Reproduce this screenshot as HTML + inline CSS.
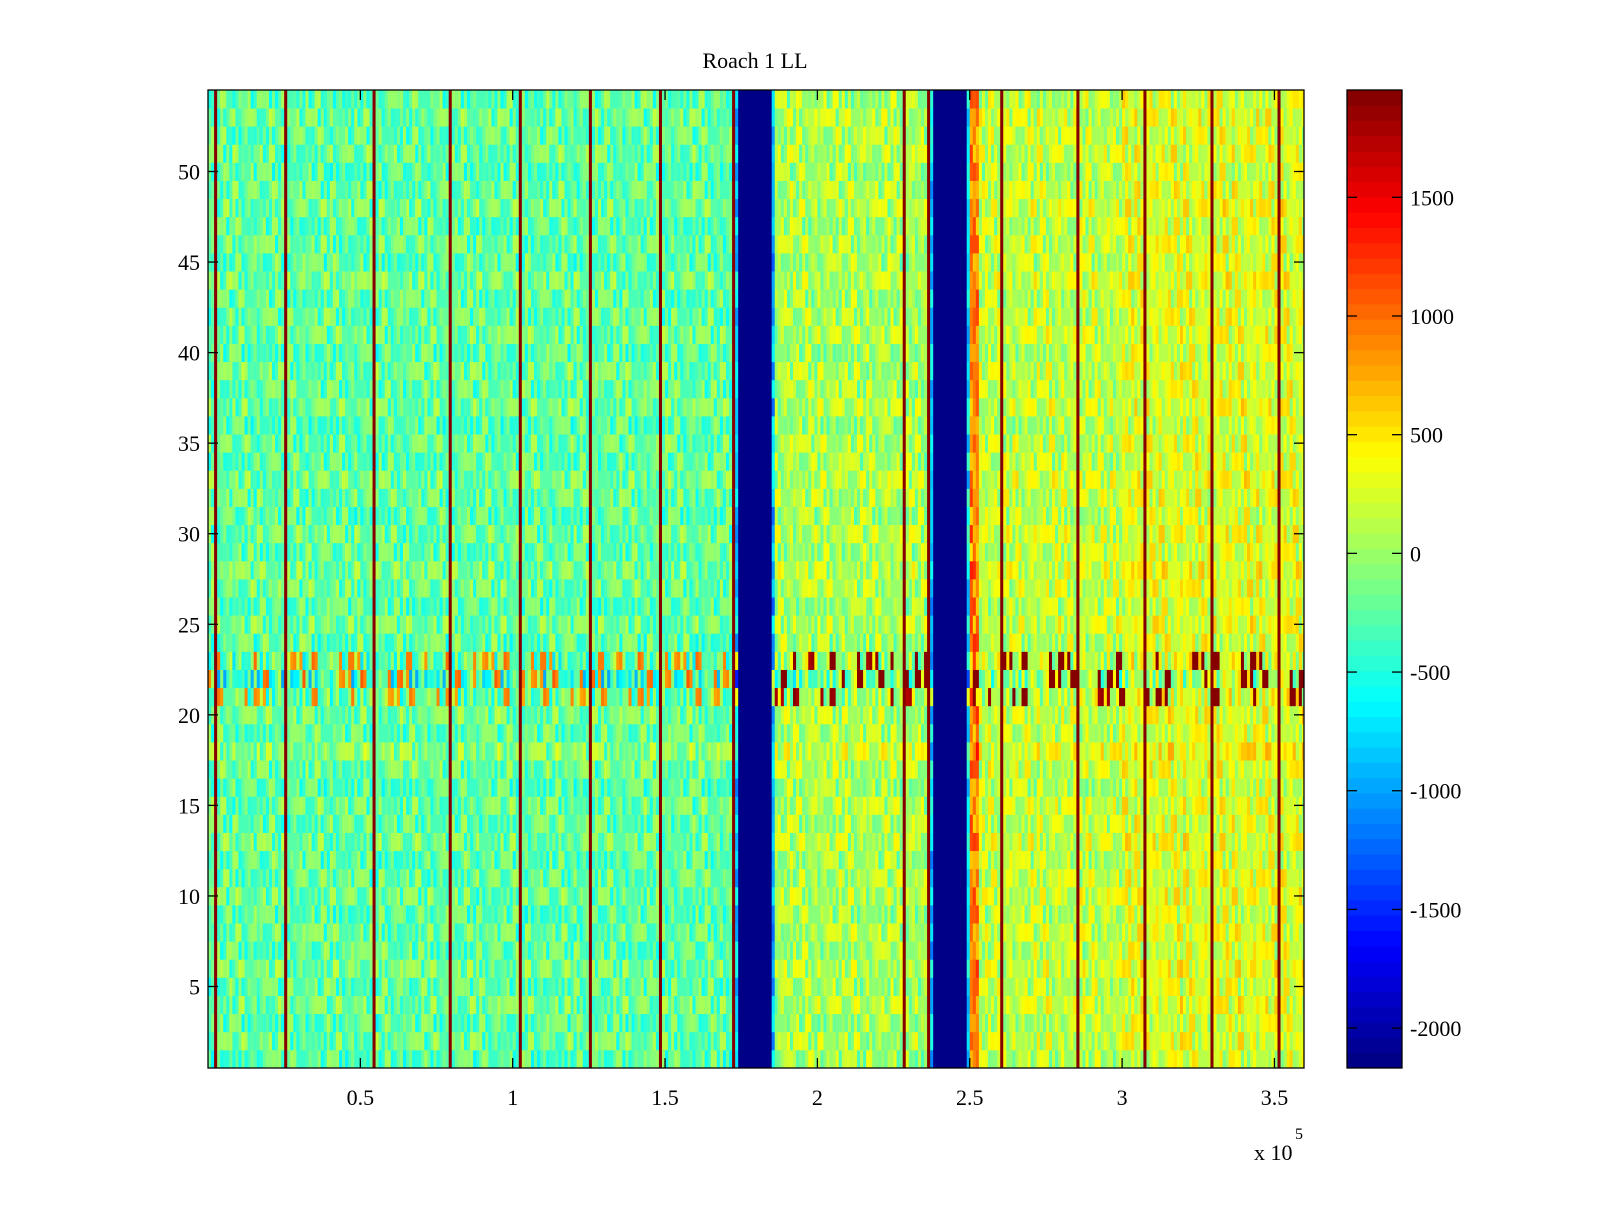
<!DOCTYPE html>
<html><head><meta charset="utf-8"><style>
html,body{margin:0;padding:0;background:#fff;}
svg text{font-family:"Liberation Serif",serif;fill:#000;}
</style></head><body>
<svg id="chart" width="1600" height="1200" viewBox="0 0 1600 1200" xmlns="http://www.w3.org/2000/svg">
<rect x="0" y="0" width="1600" height="1200" fill="#fff"/>
<text x="755" y="68" font-size="22" text-anchor="middle">Roach 1 LL</text>
<g id="cells"></g>
<g id="axes"></g>
<g id="cbar"></g>
</svg>
<script>
// ---- data (x in thousands) ----
const segEdges = [0,173,174,185,186,237,238,249,250,253,300,360];
const segMeans = [-230,-800,-2168,-900,60,-800,-2168,-700,900,150,270];
const redLines = [2,25.5,54,79,102,125,148,172,228,236,260,285,307,329,351];
const redValue = 1900;
const rowOffsets = [-60,20,-40,40,-20,60,-30,10,-50,30,0,-40,50,-10,20,-60,30,150,-20,40,100,-80,80,-30,40,-50,20,60,-20,30,-40,10,50,-30,0,-60,40,-10,20,-50,30,0,-20,50,-40,10,-30,40,0,-50,20,-10,30,-20];
const rowAmp = [1,1,1,1,1,1,1,1,1,1,1,1,1,1,1,1,1,1,1,1,1.5,1.9,1.6,1.1,1,1,1,1,1,1,1,1,1,1,1,1,1,1,1,1,1,1,1,1,1,1,1,1,1,1,1,1,1,1];
const rowSpike = [0,0,0,0,0,0,0,0,0,0,0,0,0,0,0,0,0,0,0,0,1200,1500,1300,0,0,0,0,0,0,0,0,0,0,0,0,0,0,0,0,0,0,0,0,0,0,0,0,0,0,0,0,0,0,0];
const texture = [0.3,-0.8,0.6,-0.2,0.9,-0.5,0.1,-0.9,0.4,0.7,-0.3,-0.6,0.2,0.8,-0.1,-0.7,0.5,0.0,-0.4,0.95,-0.85,0.35,-0.15,0.65,-0.55,0.15,0.75,-0.35,-0.65,0.45,-0.95,0.25,0.55,-0.25,0.85,-0.45,0.05];
const texScale = 380;
const xTicks = [0.5,1,1.5,2,2.5,3,3.5];
const xTickLabels = ["0.5","1","1.5","2","2.5","3","3.5"];
const yTicks = [5,10,15,20,25,30,35,40,45,50];
const cTicks = [-2000,-1500,-1000,-500,0,500,1000,1500];
const cMin = -2168, cMax = 1952;
const nRows = 54, nCols = 360;

// ---- layout ----
const PL=208, PR=1304, PT=90, PB=1068;
const xMin=0, xMax=359.7;
const xs = v => PL + (v - xMin) / (xMax - xMin) * (PR - PL);
const ys = v => PB - (v - 0.5) / nRows * (PB - PT);
const CL=1347, CR=1402;
const cs = v => PB - (v - cMin) / (cMax - cMin) * (PB - PT);

function jet(t){
  t = Math.max(0, Math.min(1, t));
  t = (Math.floor(t*63.999)+0.5)/64;
  const r = Math.max(0, Math.min(1, 1.5 - Math.abs(4*t - 3)));
  const g = Math.max(0, Math.min(1, 1.5 - Math.abs(4*t - 2)));
  const b = Math.max(0, Math.min(1, 1.5 - Math.abs(4*t - 1)));
  return `rgb(${Math.round(r*255)},${Math.round(g*255)},${Math.round(b*255)})`;
}
const color = v => jet((v - cMin) / (cMax - cMin));

function colMean(x){
  for (let i=0;i<segMeans.length;i++) if (x>=segEdges[i] && x<segEdges[i+1]) return segMeans[i];
  return segMeans[segMeans.length-1];
}
const NS='http://www.w3.org/2000/svg';
function mk(tag, attrs, parent){
  const e=document.createElementNS(NS,tag);
  for (const k in attrs) e.setAttribute(k, attrs[k]);
  parent.appendChild(e); return e;
}

// ---- cells ----
const cells=document.getElementById('cells');
for (let c=0;c<nCols;c++){
  const x0=c, x1=Math.min(c+1,xMax);
  const base=colMean(c+0.5);
  const isBlue = base<=cMin;
  let isRed = redLines.some(p=>p>=c && p<c+1);
  for (let r=0;r<nRows;r++){
    let v;
    if (isRed) v=redValue;
    else if (isBlue) v=cMin;
    else {
      const t=texture[(c*7 + r*11 + (c>>3)*5) % texture.length];
      v = base + rowOffsets[r] + rowAmp[r]*t*texScale;
      if (t>0.55) v += rowSpike[r]*(base>0?1:0.45);
    }
    const rect=mk('rect',{x:xs(x0).toFixed(2),y:ys(r+1.5).toFixed(2),width:(xs(x1)-xs(x0)+0.4).toFixed(2),height:(ys(r+0.5)-ys(r+1.5)+0.4).toFixed(2),fill:color(v)},cells);
    
    
  }
}

// ---- axes ----
const axes=document.getElementById('axes');
const frame=mk('rect',{x:PL,y:PT,width:PR-PL,height:PB-PT,fill:'none',stroke:'#000','stroke-width':1.3},axes);


xTicks.forEach((t,i)=>{
  const x=xs(t*100);
  mk('line',{x1:x,x2:x,y1:PB,y2:PB-10,stroke:'#000','stroke-width':1.3},axes);
  mk('line',{x1:x,x2:x,y1:PT,y2:PT+10,stroke:'#000','stroke-width':1.3},axes);
  const tx=mk('text',{x:x,y:PB+37,'font-size':22,'text-anchor':'middle'},axes);
  tx.textContent=xTickLabels[i];
  
  
});
yTicks.forEach(t=>{
  const y=ys(t);
  mk('line',{x1:PL,x2:PL+10,y1:y,y2:y,stroke:'#000','stroke-width':1.3},axes);
  mk('line',{x1:PR,x2:PR-10,y1:y,y2:y,stroke:'#000','stroke-width':1.3},axes);
  const tx=mk('text',{x:PL-8,y:y+8,'font-size':22,'text-anchor':'end'},axes);
  tx.textContent=String(t);
  
  
});
const ex=mk('text',{x:1254,y:1160,'font-size':22},axes);
ex.textContent='x 10';


const ex5=mk('text',{x:1295,y:1139,'font-size':16},axes);
ex5.textContent='5';



// ---- colorbar ----
const cbar=document.getElementById('cbar');
for (let i=0;i<64;i++){
  const v0=cMin+(cMax-cMin)*i/64, v1=cMin+(cMax-cMin)*(i+1)/64;
  const r=mk('rect',{x:CL,y:cs(v1).toFixed(2),width:CR-CL,height:(cs(v0)-cs(v1)+0.5).toFixed(2),fill:jet((i+0.5)/64)},cbar);
  
  
}
mk('rect',{x:CL,y:PT,width:CR-CL,height:PB-PT,fill:'none',stroke:'#000','stroke-width':1.3},cbar);
cTicks.forEach(t=>{
  const y=cs(t);
  mk('line',{x1:CL,x2:CL+10,y1:y,y2:y,stroke:'#000','stroke-width':1.3},cbar);
  mk('line',{x1:CR,x2:CR-10,y1:y,y2:y,stroke:'#000','stroke-width':1.3},cbar);
  const tx=mk('text',{x:1410,y:y+8,'font-size':22},cbar);
  tx.textContent=String(t);
  
  
});
</script>
</body></html>
